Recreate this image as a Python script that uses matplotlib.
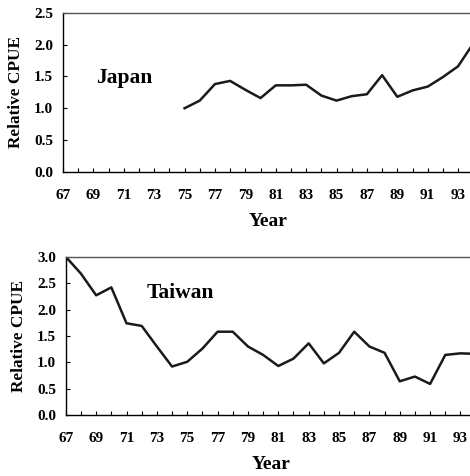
import matplotlib
matplotlib.use('Agg')
import matplotlib.pyplot as plt

plt.rcParams['font.family'] = ['Liberation Serif', 'DejaVu Serif']
plt.rcParams['font.weight'] = 'bold'

japan_years = list(range(75, 95))
japan_cpue = [1.00, 1.12, 1.38, 1.43, 1.29, 1.16, 1.36, 1.36, 1.37, 1.20,
              1.12, 1.19, 1.22, 1.52, 1.18, 1.28, 1.34, 1.49, 1.66, 2.02]

taiwan_years = list(range(67, 95))
taiwan_cpue = [3.00, 2.68, 2.27, 2.42, 1.74, 1.69, 1.30, 0.92, 1.01, 1.26,
               1.58, 1.58, 1.30, 1.14, 0.93, 1.07, 1.36, 0.98, 1.18, 1.58,
               1.30, 1.18, 0.64, 0.73, 0.59, 1.14, 1.17, 1.16]

year_ticks = list(range(67, 95, 2))

fig = plt.figure(figsize=(4.70, 4.76), dpi=100)
ax1 = fig.add_axes([0.134, 0.639, 0.873, 0.334])
ax2 = fig.add_axes([0.140, 0.128, 0.872, 0.3325])


def style(ax, ymax, name, name_xy):
    ax.set_xlim(67, 94)
    ax.set_ylim(0, ymax)
    ax.set_xticks(year_ticks)
    ax.set_xticks(range(67, 95), minor=True)
    n = int(round(ymax / 0.5)) + 1
    ax.set_yticks([i * 0.5 for i in range(n)])
    ax.set_yticklabels(['%.1f' % (i * 0.5) for i in range(n)])
    ax.tick_params(axis='x', which='both', direction='in', length=3, width=0.8,
                   pad=12.5, labelsize=11)
    ax.tick_params(axis='y', direction='in', length=3, width=0.8, pad=7,
                   labelsize=11)
    for lab in ax.get_xticklabels() + ax.get_yticklabels():
        lab.set_fontweight('bold')
    ax.spines['top'].set_color('#555555')
    ax.spines['top'].set_linewidth(1.0)
    ax.spines['left'].set_linewidth(1.0)
    ax.spines['bottom'].set_linewidth(1.0)
    ax.set_xlabel('Year', fontsize=14, fontweight='bold', labelpad=7.5)
    ax.set_ylabel('Relative CPUE', fontsize=12.4, fontweight='bold', labelpad=7)
    ax.text(name_xy[0], name_xy[1], name, fontsize=15.5, fontweight='bold',
            transform=ax.transData, va='center')


ax1.plot(japan_years, japan_cpue, color='#1a1a1a', lw=1.8)
style(ax1, 2.5, 'Japan', (69.2, 1.48))

ax2.plot(taiwan_years, taiwan_cpue, color='#1a1a1a', lw=1.8)
style(ax2, 3.0, 'Taiwan', (72.3, 2.32))

fig.savefig('out.png', dpi=100)
